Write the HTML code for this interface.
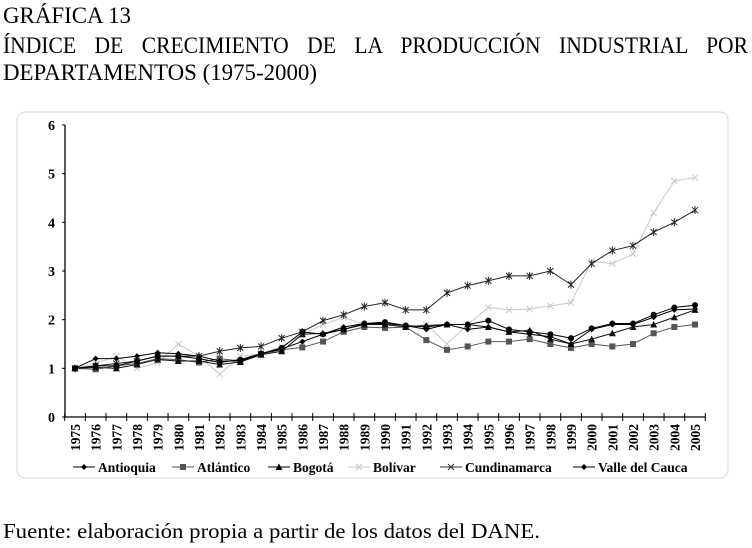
<!DOCTYPE html>
<html><head><meta charset="utf-8">
<style>
html,body{margin:0;padding:0;background:#fff;}
svg{display:block;font-family:"Liberation Serif",serif;}
</style></head>
<body>
<svg id="chart" width="752" height="548" viewBox="0 0 752 548" xmlns="http://www.w3.org/2000/svg">
<text x="3" y="23" font-size="23" textLength="128" lengthAdjust="spacingAndGlyphs">GRÁFICA 13</text>
<text x="3" y="53" font-size="23" word-spacing="14" textLength="745" lengthAdjust="spacingAndGlyphs">ÍNDICE DE CRECIMIENTO DE LA PRODUCCIÓN INDUSTRIAL POR</text>
<text x="3" y="80" font-size="23" textLength="314" lengthAdjust="spacingAndGlyphs">DEPARTAMENTOS (1975-2000)</text>
<rect x="17" y="112" width="711" height="366" rx="8" fill="#fff" stroke="#d8d8d8" stroke-width="1"/>
<g id="plot"></g>
<text x="3" y="538" font-size="21" textLength="537" lengthAdjust="spacingAndGlyphs">Fuente: elaboración propia a partir de los datos del DANE.</text>
</svg>
<script>
const years = [1975,1976,1977,1978,1979,1980,1981,1982,1983,1984,1985,1986,1987,1988,1989,1990,1991,1992,1993,1994,1995,1996,1997,1998,1999,2000,2001,2002,2003,2004,2005];
const yTicks = [0,1,2,3,4,5,6];
const antioquia = [1,1.2,1.2,1.25,1.32,1.3,1.25,1.15,1.15,1.3,1.4,1.55,1.7,1.85,1.92,1.92,1.88,1.8,1.9,1.8,1.85,1.75,1.7,1.65,1.5,1.8,1.9,1.9,2.05,2.2,2.22];
const atlantico = [1,0.98,1.05,1.1,1.2,1.18,1.12,1.2,1.15,1.3,1.38,1.43,1.55,1.75,1.85,1.83,1.85,1.58,1.38,1.45,1.55,1.55,1.6,1.5,1.42,1.5,1.45,1.5,1.72,1.85,1.9];
const bogota = [1,1.02,1.0,1.08,1.18,1.15,1.15,1.08,1.13,1.28,1.35,1.7,1.72,1.8,1.9,1.9,1.85,1.88,1.9,1.9,1.85,1.75,1.78,1.6,1.5,1.6,1.72,1.85,1.9,2.05,2.2];
const bolivar = [1,1.1,1.25,1.0,1.12,1.5,1.25,0.88,1.25,1.3,1.45,1.7,1.9,2.05,1.9,1.9,1.85,1.9,1.5,1.9,2.25,2.2,2.22,2.28,2.35,3.2,3.15,3.35,4.2,4.85,4.92];
const cundinamarca = [1,1.05,1.1,1.15,1.25,1.25,1.25,1.35,1.42,1.45,1.62,1.75,1.98,2.1,2.27,2.35,2.2,2.2,2.55,2.7,2.8,2.9,2.9,3.0,2.72,3.15,3.42,3.52,3.8,4.0,4.25];
const valle = [1,1.05,1.05,1.15,1.25,1.25,1.2,1.12,1.18,1.3,1.42,1.75,1.7,1.8,1.92,1.95,1.88,1.85,1.9,1.9,1.98,1.8,1.75,1.7,1.62,1.82,1.92,1.92,2.1,2.25,2.3];
const seriesNames = ["Antioquia","Atlántico","Bogotá","Bolívar","Cundinamarca","Valle del Cauca"];

const NS="http://www.w3.org/2000/svg";
const g=document.getElementById('plot');
const X0=75, X1=695, Y0=417, Y1=125, YAX=65;
const x=i=>X0+(X1-X0)*i/(years.length-1);
const y=v=>Y0-(Y0-Y1)*v/6;
function mk(tag,attrs,parent){const e=document.createElementNS(NS,tag);for(const k in attrs)e.setAttribute(k,attrs[k]);(parent||g).appendChild(e);return e;}

const yl=mk('line',{x1:YAX,y1:Y1,x2:YAX,y2:Y0,stroke:'#000','stroke-width':1.3});


const xl=mk('line',{x1:YAX,y1:Y0,x2:X1+10,y2:Y0,stroke:'#000','stroke-width':1.3});


yTicks.forEach(t=>{
  const tk=mk('line',{x1:YAX-3,y1:y(t),x2:YAX,y2:y(t),stroke:'#000'});
  
  
  const tl=mk('text',{x:YAX-10,y:y(t)+5,'font-size':14,'font-weight':'bold','text-anchor':'end'});
  tl.textContent=t;
  
  
});
years.forEach((yr,i)=>{
  const xm=x(i)-10.3;
  const tk=mk('line',{x1:xm,y1:Y0-4,x2:xm,y2:Y0+4,stroke:'#000'});
  
  
  const tl=mk('text',{x:0,y:0,'font-size':13.5,'font-weight':'bold','text-anchor':'end',transform:`translate(${x(i)+5},${Y0+7}) rotate(-90)`});
  tl.textContent=yr;
  
  
});
const last=mk('line',{x1:x(years.length-1)+10.3,y1:Y0-4,x2:x(years.length-1)+10.3,y2:Y0+4,stroke:'#000'});



function marker(type,cx,cy,color,parent){
  let e;
  if(type==='diamond') e=mk('path',{d:`M${cx} ${cy-3}L${cx+3} ${cy}L${cx} ${cy+3}L${cx-3} ${cy}Z`,fill:color},parent);
  else if(type==='square') e=mk('rect',{x:cx-3,y:cy-3,width:6,height:6,fill:color},parent);
  else if(type==='triangle') e=mk('path',{d:`M${cx} ${cy-3.5}L${cx+3.5} ${cy+3}L${cx-3.5} ${cy+3}Z`,fill:color},parent);
  else if(type==='x') e=mk('path',{d:`M${cx-3} ${cy-3}L${cx+3} ${cy+3}M${cx+3} ${cy-3}L${cx-3} ${cy+3}`,stroke:color,fill:'none'},parent);
  else if(type==='star') e=mk('path',{d:`M${cx-3} ${cy-3}L${cx+3} ${cy+3}M${cx+3} ${cy-3}L${cx-3} ${cy+3}M${cx} ${cy-4}L${cx} ${cy+4}`,stroke:color,fill:'none'},parent);
  else e=mk('circle',{cx,cy,r:3,fill:color},parent);
  return e;
}
const seriesDefs=[
  {data:bolivar,color:'#c8c8c8',m:'x',key:'bolivar'},
  {data:atlantico,color:'#555',m:'square',key:'atlantico'},
  {data:bogota,color:'#111',m:'triangle',key:'bogota'},
  {data:antioquia,color:'#000',m:'diamond',key:'antioquia'},
  {data:cundinamarca,color:'#222',m:'star',key:'cundinamarca'},
  {data:valle,color:'#000',m:'circle',key:'valle-del-cauca'}
];
seriesDefs.forEach(s=>{
  const sg=mk('g',{});
  
  
  const p=mk('polyline',{points:s.data.map((v,i)=>x(i)+','+y(v)).join(' '),fill:'none',stroke:s.color,'stroke-width':1},sg);
  
  
  s.data.forEach((v,i)=>{
    const m=marker(s.m,x(i),y(v),s.color,sg);
    
    
  });
});
const legMarks=['diamond','square','triangle','x','x','diamond'];
const legColors=['#000','#555','#000','#c8c8c8','#333','#000'];
const legX=[73,172,268,348,440,573];
const lg=mk('g',{});


seriesNames.forEach((n,i)=>{
  const eg=mk('g',{},lg);
  
  
  mk('line',{x1:legX[i],y1:467,x2:legX[i]+22,y2:467,stroke:legColors[i]},eg);
  marker(legMarks[i],legX[i]+11,467,legColors[i],eg);
  const t=mk('text',{x:legX[i]+25,y:472,'font-size':13.5,'font-weight':'bold'},eg);
  t.textContent=n;
});
</script>
</body></html>
